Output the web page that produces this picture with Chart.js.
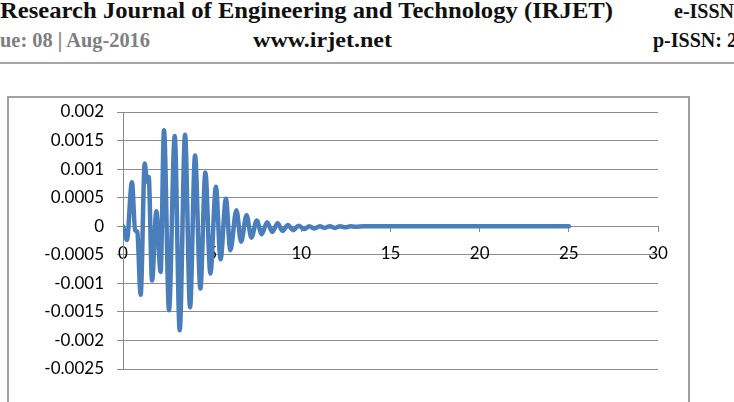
<!DOCTYPE html>
<html>
<head>
<meta charset="utf-8">
<script src="https://cdn.jsdelivr.net/npm/chart.js@4"></script>
<style>
  html, body { margin:0; padding:0; background:#fff; width:734px; height:402px; overflow:hidden; }
  .hd { position:absolute; white-space:nowrap; font-family:"Liberation Serif","DejaVu Serif",serif; font-weight:bold; line-height:1; transform-origin:0 0; }
  #rule { position:absolute; left:0; top:62px; width:734px; height:2px; background:#a6a6a6; }
  #box { position:absolute; left:7px; top:96px; width:679px; height:305px; border:2px solid #a0a0a0; border-bottom:none; }
  #c { position:absolute; left:0; top:0; }
</style>
</head>
<body>
<div class="hd" id="h1" style="left:0;top:-1px;font-size:23px;color:#111;">Research Journal of Engineering and Technology (IRJET)</div>
<div class="hd" id="h2" style="left:674px;top:1px;font-size:20px;color:#111;">e-ISSN: 2395-0056</div>
<div class="hd" id="h3" style="left:0;top:30px;font-size:20px;color:#7f7f7f;">ue: 08 | Aug-2016</div>
<div class="hd" id="h4" style="left:253px;top:30px;font-size:20px;color:#111;">www.irjet.net</div>
<div class="hd" id="h5" style="left:653px;top:30px;font-size:20px;color:#111;">p-ISSN: 2395-0072</div>
<div id="rule"></div>
<div id="box"></div>
<canvas id="c" width="734" height="402"></canvas>
<script>
// time (x) and response (y)
const xs = [0, 0.22, 0.5, 0.68, 0.8, 0.99, 1.22, 1.34, 1.44, 1.63, 1.87, 2.11, 2.3, 2.58, 2.9, 3.18, 3.48, 3.76, 4.04, 4.34, 4.62, 4.9, 5.21, 5.47, 5.77, 6.02, 6.36, 6.62, 6.93, 7.2, 7.5, 7.78, 8.08, 8.37, 8.67, 8.94, 9.25, 9.53, 9.85, 10.15, 10.45, 10.73, 11.03, 11.3, 11.6, 11.88, 12.18, 12.46, 12.76, 13.04, 13.5, 25];
const ys = [0, -0.00024, 0.00077, -0.00007, -0.0001, -0.0012, 0.0011, 0.00078, 0.00086, -0.00095, 0.00026, -0.0008, 0.00168, -0.00147, 0.00158, -0.00182, 0.0016, -0.00142, 0.00124, -0.00109, 0.00094, -0.00083, 0.00069, -0.00058, 0.00048, -0.00042, 0.00028, -0.00027, 0.00019, -0.0002, 0.0001, -0.00014, 0.00007, -0.0001, 0.00005, -0.00008, 0.00002, -0.00007, 0.00001, -0.00005, 0, -0.00004, 0, -0.00003, 0, -0.00003, 0, -0.00002, 0, -0.00001, 0, 0];
const xTicks = [0, 5, 10, 15, 20, 25, 30];
const yTickLabels = ["0.002", "0.0015", "0.001", "0.0005", "0", "-0.0005", "-0.001", "-0.0015", "-0.002", "-0.0025"];

const yVals = yTickLabels.map(Number);
const pts = xs.map((x, i) => ({ x: x, y: ys[i] }));
const grid = '#8c8c8c';
const font = { family: 'Lato, "Open Sans", sans-serif', size: 17 };

new Chart(document.getElementById('c'), {
  type: 'line',
  data: { datasets: [{ data: pts, borderColor: '#4a7ebb', borderWidth: 4.5, pointRadius: 0, cubicInterpolationMode: 'monotone', borderCapStyle: 'round', borderJoinStyle: 'round', fill: false }] },
  options: {
    responsive: false, animation: false,
    layout: { padding: { left: 0, top: 112, right: 76, bottom: 33 } },
    plugins: { legend: { display: false }, tooltip: { enabled: false } },
    scales: {
      x: {
        type: 'linear', position: { y: 0 }, min: 0, max: 30,
        afterBuildTicks: s => { s.ticks = xTicks.map(v => ({ value: v })); },
        ticks: { color: '#000', font: font, padding: 12, maxRotation: 0, callback: v => String(v) },
        grid: { drawOnChartArea: false, drawTicks: true, tickLength: 5, color: grid },
        border: { color: grid, width: 1 }
      },
      y: {
        min: -0.0025, max: 0.002,
        afterBuildTicks: s => { s.ticks = yVals.map(v => ({ value: v })); },
        afterFit: s => { s.width = 123; },
        ticks: { color: '#000', font: font, padding: 13, callback: (v) => yTickLabels[yVals.findIndex(t => Math.abs(t - v) < 1e-9)] },
        grid: { color: grid, tickLength: 6, lineWidth: 1 },
        border: { color: grid, width: 1 }
      }
    }
  }
});

// fit header text widths to the reference
function fit(id, w) { const el = document.getElementById(id); const r = el.getBoundingClientRect().width; el.style.transform = 'scaleX(' + (w / r) + ')'; }
fit('h1', 613);
fit('h3', 150);
fit('h4', 139);
</script>
</body>
</html>
